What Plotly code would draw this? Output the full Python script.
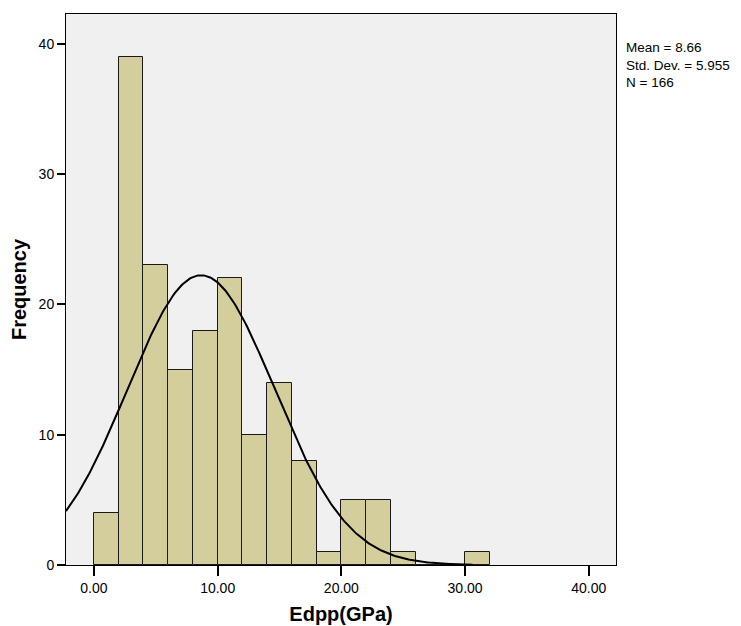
import numpy as np
import plotly.graph_objects as go

# Histogram bins (width 2 GPa) and counts
bin_starts = [0, 2, 4, 6, 8, 10, 12, 14, 16, 18, 20, 22, 24, 26, 28, 30]
counts = [4, 39, 23, 15, 18, 22, 10, 14, 8, 1, 5, 5, 1, 0, 0, 1]
bin_width = 2.0

# Summary statistics
mean_val = 8.66
sd_val = 5.955
n_val = 166

x_ticks = [0, 10, 20, 30, 40]
x_tick_labels = ["0.00", "10.00", "20.00", "30.00", "40.00"]
y_ticks = [0, 10, 20, 30, 40]

x_range = [-2.26, 42.2]
y_range = [0, 42.3]

centers = [b + bin_width / 2 for b in bin_starts]

# Normal curve scaled to the histogram counts
xc = np.linspace(x_range[0], 30.6, 300)
yc = n_val * bin_width / (sd_val * np.sqrt(2 * np.pi)) * np.exp(-0.5 * ((xc - mean_val) / sd_val) ** 2)

fig = go.Figure()
fig.add_trace(go.Bar(
    x=centers, y=counts, width=bin_width,
    marker=dict(color="#d3ce9b", line=dict(color="#1a1a1a", width=1)),
    hoverinfo="x+y",
))
fig.add_trace(go.Scatter(
    x=xc, y=yc, mode="lines",
    line=dict(color="black", width=2),
    hoverinfo="skip",
))

font_family = "Liberation Sans, Arial, sans-serif"

stats_text = f"Mean = {mean_val:.2f}<br>Std. Dev. = {sd_val:.3f}<br>N = {n_val}"

fig.update_layout(
    width=741, height=626,
    margin=dict(l=66, r=125, t=14, b=61),
    paper_bgcolor="white",
    plot_bgcolor="#f0f0f0",
    showlegend=False,
    bargap=0,
    font=dict(family=font_family, size=14, color="black"),
    xaxis=dict(
        range=x_range, tickvals=x_ticks, ticktext=x_tick_labels,
        ticks="outside", ticklen=10, tickwidth=2, tickcolor="black",
        showgrid=False, zeroline=False, automargin=False,
        showline=True, linecolor="black", linewidth=1, mirror=True,
        title=dict(text="<b>Edpp(GPa)</b>", font=dict(size=20), standoff=12),
        tickfont=dict(size=14),
    ),
    yaxis=dict(
        range=y_range, tickvals=y_ticks,
        ticks="outside", ticklen=8, tickwidth=2, tickcolor="black",
        showgrid=False, zeroline=False, automargin=False,
        showline=True, linecolor="black", linewidth=1, mirror=True,
        title=dict(text="<b>Frequency</b>", font=dict(size=20), standoff=6),
        tickfont=dict(size=14),
    ),
    annotations=[dict(
        x=1.0, xshift=8, y=0.9074, xref="paper", yref="paper",
        xanchor="left", yanchor="middle", align="left", showarrow=False,
        text=stats_text, font=dict(size=13.5, family=font_family),
    )],
)

fig.write_html("out.html")
